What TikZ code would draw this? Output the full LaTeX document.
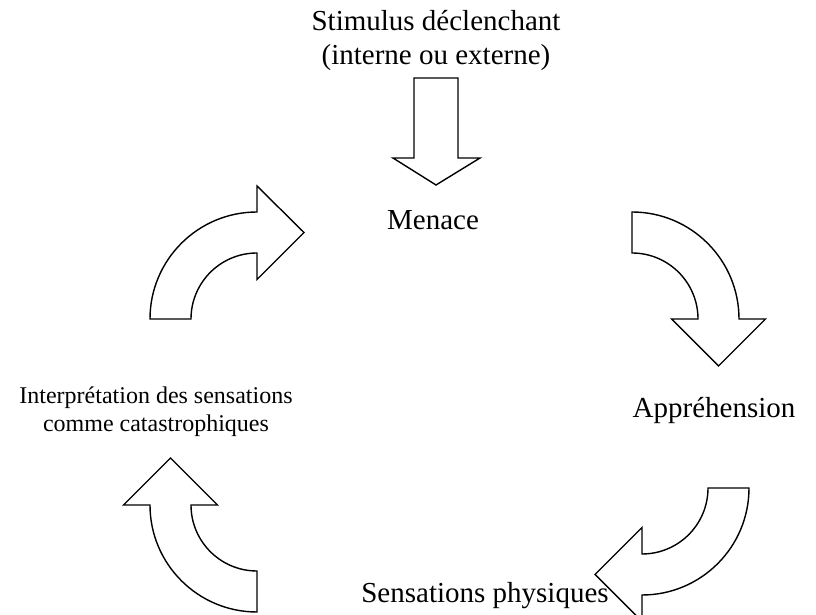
\documentclass[tikz,border=0pt]{standalone}
\usepackage{fontspec}
\setmainfont{Liberation Serif}
\begin{document}
\begin{tikzpicture}[x=1pt,y=1pt,
  blockarrow/.style={draw=black,fill=white,line width=1.4pt,line join=miter},
  bigtext/.style={font=\fontsize{29}{34}\selectfont,inner sep=0pt},
  smalltext/.style={font=\fontsize{24}{28}\selectfont,inner sep=0pt,align=center}]
\useasboundingbox (0,0) rectangle (816,615);
\clip (0,0) rectangle (816,615);

% trigger arrow
\draw[blockarrow] (414,537) -- (458,537) -- (458,457) -- (480,457) -- (436,430)
  -- (393,457) -- (414,457) -- cycle;

% top-left arrow (towards Menace)
\draw[blockarrow] (150,296) arc[start angle=180,end angle=90,radius=107]
  -- (257,429) -- (304,382.5) -- (257,335.5) -- (257,362)
  arc[start angle=90,end angle=180,radius=66] -- cycle;

% top-right arrow (towards Appréhension)
\draw[blockarrow] (632,403) arc[start angle=90,end angle=0,radius=107]
  -- (765.5,296) -- (718.5,249) -- (671.5,296) -- (698,296)
  arc[start angle=0,end angle=90,radius=66] -- cycle;

% bottom-right arrow (towards Sensations physiques)
\draw[blockarrow] (708,127) arc[start angle=0,end angle=-90,radius=66]
  -- (642,87.5) -- (595,40.5) -- (642,-6.5) -- (642,20)
  arc[start angle=-90,end angle=0,radius=107] -- cycle;

% bottom-left arrow (towards Interprétation)
\draw[blockarrow] (150,110) -- (123.5,110) -- (170.5,157) -- (217.5,110) -- (191,110)
  arc[start angle=180,end angle=270,radius=66] -- (257,3)
  arc[start angle=270,end angle=180,radius=107] -- cycle;

\node[bigtext,align=center] (stim) at (436,574) {Stimulus déclenchant\\(interne ou externe)};
\node[bigtext,anchor=base] (menace) at (433,385) {Menace};
\node[bigtext,anchor=base] (appr) at (714,197) {Appréhension};
\node[bigtext,anchor=base] (sens) at (485,12) {Sensations physiques};
\node[smalltext] (interp) at (156,203.6) {Interprétation des sensations\\comme catastrophiques};
\end{tikzpicture}
\end{document}
